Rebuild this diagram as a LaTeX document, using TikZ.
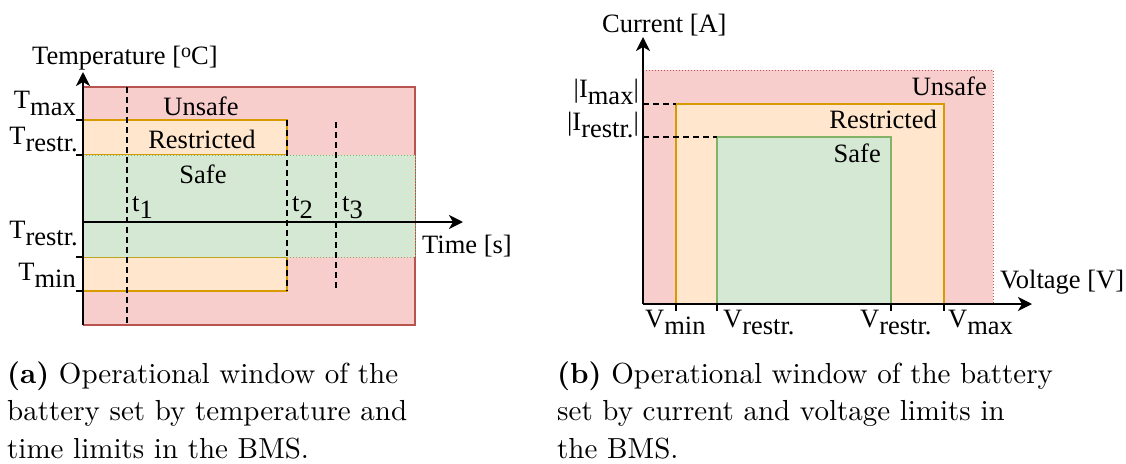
\documentclass[tikz,border=0pt]{standalone}
\usepackage{fontspec}
\setmainfont{Liberation Serif}
\newfontfamily\capfont{lmroman10-regular.otf}[BoldFont=lmroman10-bold.otf]
\usetikzlibrary{arrows.meta}

\definecolor{unsafeFill}{HTML}{F8CECC}
\definecolor{unsafeLine}{HTML}{B85450}
\definecolor{restrFill}{HTML}{FFE6CC}
\definecolor{restrLine}{HTML}{D79B00}
\definecolor{safeFill}{HTML}{D5E8D4}
\definecolor{safeLine}{HTML}{82B366}

% lowered, full-size index as used in the limit labels
\newcommand\lowsub[1]{\raisebox{-7pt}{#1}}

\tikzset{
  lbl/.style={font=\fontsize{26.5}{30}\selectfont, inner sep=0pt},
  captxt/.style={font=\capfont\fontsize{29}{37.5}\selectfont, inner sep=0pt, anchor=base west},
  axisline/.style={line width=2.5pt, -{Stealth[length=14pt,width=14pt,inset=4pt]}},
  tickline/.style={line width=2pt},
  guide/.style={line width=1.5pt, dash pattern=on 6pt off 4pt},
  unsafezone/.style={fill=unsafeFill, draw=unsafeLine, line width=1.5pt},
  restrzone/.style={fill=restrFill, draw=restrLine, line width=1.5pt},
  safezone/.style={fill=safeFill, draw=safeLine, line width=1.5pt},
}

\begin{document}
\begin{tikzpicture}[x=1pt, y=-1pt]
\useasboundingbox (0,0) rectangle (1126,463);

% ---------------- (a) temperature / time window ----------------
\coordinate (aO) at (83,325);
\coordinate (aTop) at (83,72);
\coordinate (aT0) at (83,222);
\coordinate (aTend) at (463,222);

\fill[unsafeFill] (83,87) rectangle (415,325);
\draw[unsafeLine, line width=1.5pt] (83,87) -- (415,87) -- (415,325) -- (83,325);
\draw[restrzone] (83,120) rectangle (287,155);
\draw[restrzone] (83,257) rectangle (287,291);
\draw[fill=safeFill, draw=safeLine, line width=1pt, dotted] (83,155) rectangle (415,257);

% time instants
\coordinate (t1a) at (127,87);  \coordinate (t1b) at (127,325);
\coordinate (t2a) at (287,120); \coordinate (t2b) at (287,291);
\coordinate (t3a) at (336,122); \coordinate (t3b) at (336,291);
\draw[guide] (t1a) -- (t1b);
\draw[guide] (t2a) -- (t2b);
\draw[guide] (t3a) -- (t3b);

% axes
\draw[axisline] (aO) -- (aTop);
\draw[axisline] (aT0) -- (aTend);

% temperature ticks
\foreach \yy in {120,155,257,291}
  \draw[tickline] (76,\yy) -- (83,\yy);

% labels
\node[lbl, anchor=base west] (tempLbl) at (32,64) {Temperature [\raisebox{7pt}{\fontsize{20}{20}\selectfont o}C]};
\node[lbl, anchor=base] (aUnsafe) at (201,115) {Unsafe};
\node[lbl, anchor=base] (aRestr) at (202,148) {Restricted};
\node[lbl, anchor=base] (aSafe) at (203,183) {Safe};
\node[lbl, anchor=base east] (tmax) at (76,108) {T\lowsub{max}};
\node[lbl, anchor=base east] (trestrA) at (78,144) {T\lowsub{restr.}};
\node[lbl, anchor=base east] (trestrB) at (78,238) {T\lowsub{restr.}};
\node[lbl, anchor=base east] (tmin) at (76,280) {T\lowsub{min}};
\node[lbl, anchor=base west] (t1) at (132,211) {t\lowsub{1}};
\node[lbl, anchor=base west] (t2) at (292,211) {t\lowsub{2}};
\node[lbl, anchor=base west] (t3) at (342,211) {t\lowsub{3}};
\node[lbl, anchor=base west] (timeLbl) at (422,253) {Time [s]};

% ---------------- (b) current / voltage window ----------------
\coordinate (bO) at (643,304);
\coordinate (bTop) at (643,37);
\coordinate (bRight) at (1032,304);

\draw[fill=unsafeFill, draw=unsafeLine, line width=1pt, dotted] (643,70) rectangle (993,304);
\draw[restrzone] (676,104) rectangle (944,304);
\draw[safezone] (717,137) rectangle (891,304);

\coordinate (imaxL) at (643,104);   \coordinate (imaxR) at (676,104);
\coordinate (irestrL) at (643,137); \coordinate (irestrR) at (717,137);
\draw[guide] (imaxL) -- (imaxR);
\draw[guide] (irestrL) -- (irestrR);

\draw[axisline] (bO) -- (bTop);
\draw[axisline] (bO) -- (bRight);

\foreach \xx in {676,717,891,944}
  \draw[tickline] (\xx,304) -- (\xx,311);

\node[lbl, anchor=base west] (curLbl) at (602,32) {Current [A]};
\node[lbl, anchor=base east] (imax) at (639,97) {|I\lowsub{max}|};
\node[lbl, anchor=base east] (irestr) at (639,130) {|I\lowsub{restr.}|};
\node[lbl, anchor=base east] (bUnsafe) at (987,95) {Unsafe};
\node[lbl, anchor=base east] (bRestr) at (937,128) {Restricted};
\node[lbl, anchor=base east] (bSafe) at (881,162) {Safe};
\node[lbl, anchor=base west] (voltLbl) at (1000,288) {Voltage [V]};
\node[lbl, anchor=base west] (vmin) at (645,327) {V\lowsub{min}};
\node[lbl, anchor=base west] (vrestrA) at (723,327) {V\lowsub{restr.}};
\node[lbl, anchor=base west] (vrestrB) at (860,327) {V\lowsub{restr.}};
\node[lbl, anchor=base west] (vmax) at (948,327) {V\lowsub{max}};

% ---------------- captions ----------------
\node[captxt] (capA1) at (7,383) {\textbf{(a)} Operational window of the};
\node[captxt] (capA2) at (7,420.5) {battery set by temperature and};
\node[captxt] (capA3) at (7,458) {time limits in the BMS.};
\node[captxt] (capB1) at (557,383) {\textbf{(b)} Operational window of the battery};
\node[captxt] (capB2) at (557,420.5) {set by current and voltage limits in};
\node[captxt] (capB3) at (557,458) {the BMS.};
\end{tikzpicture}
\end{document}
